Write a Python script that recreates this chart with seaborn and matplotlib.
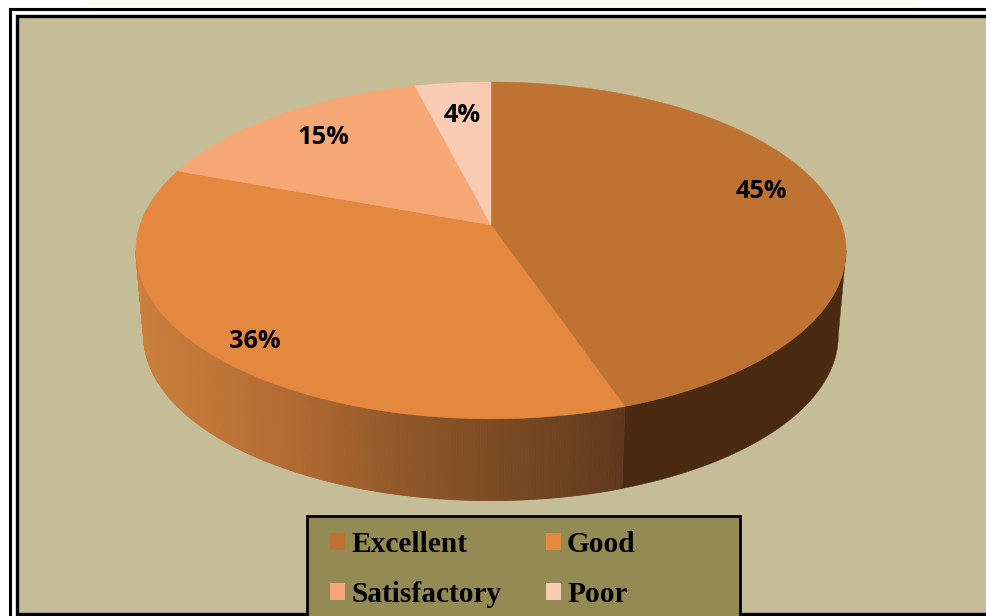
import numpy as np
import matplotlib
matplotlib.use("Agg")
import matplotlib.pyplot as plt
from matplotlib.patches import Rectangle, Patch
import seaborn as sns

categories = ["Excellent", "Good", "Satisfactory", "Poor"]
shares = [44.7, 35.9, 15.4, 4.0]
label_xy = [(761, 190), (255, 339), (323, 135), (462, 114)]
palette = sns.color_palette(["#BF7333", "#E5883F", "#F5A876", "#F9CBB3"])

sns.set_style("white")
W, H = 987, 616
fig = plt.figure(figsize=(W / 100, H / 100), dpi=100, facecolor="white")
ax = fig.add_axes([0, 0, 1, 1])
ax.set_xlim(0, W)
ax.set_ylim(H, 0)
ax.axis("off")

# projected disc geometry
CX, CY, RX, RY, K = 491, 225, 351, 164.6, 0.151
DROP, SHRINK = 86, 0.978
SILHOUETTE = np.pi / 2 + np.arcsin(K)


def project(theta, base=False):
    x, y = np.sin(theta), np.cos(theta)
    d = 1 + K * y
    px, py = RX * x / d, -RY * y / d
    if base:
        return CX + SHRINK * px, CY + DROP + SHRINK * py
    return CX + px, CY + py


# page background and frames
ax.add_patch(Rectangle((85, 0), 830, 7, fc="#FFFEF2", ec="none", zorder=0))
ax.add_patch(Rectangle((10, 9), 1000, 640, fc="white", ec="black", lw=2.2, zorder=1))
ax.add_patch(Rectangle((16.5, 15.5), 1000, 598, fc="#C4BD97", ec="black", lw=2.4, zorder=2))

edges = 2 * np.pi * np.concatenate([[0], np.cumsum(shares)]) / 100.0
lo, hi = edges[:-1], edges[1:]

side_stops = np.array([135, 280, 420, 560, 626])
side_r = np.array([0xCB, 0xB4, 0x8B, 0x6E, 0x5E]) / 255
side_g = np.array([0x80, 0x6C, 0x55, 0x43, 0x38]) / 255
side_b = np.array([0x3D, 0x33, 0x27, 0x20, 0x1C]) / 255

# side wall: Excellent front part, then the shaded Good part
th = np.linspace(SILHOUETTE, hi[0], 60)
tx, ty = project(th)
bx, by = project(th, True)
ax.fill(np.r_[tx, bx[::-1]], np.r_[ty, by[::-1]], fc="#4A2B12", ec="#4A2B12", lw=0.3, zorder=3)

th = np.linspace(hi[0], 2 * np.pi - SILHOUETTE, 240)
for a, b in zip(th[:-1], th[1:]):
    seg = np.array([a, b])
    tx, ty = project(seg)
    bx, by = project(seg, True)
    mid = tx.mean()
    col = (np.interp(mid, side_stops, side_r),
           np.interp(mid, side_stops, side_g),
           np.interp(mid, side_stops, side_b))
    ax.fill(np.r_[tx, bx[::-1]], np.r_[ty, by[::-1]], fc=col, ec=col, lw=0.6, zorder=3)

# top face wedges
for start, end, colour in zip(lo, hi, palette):
    th = np.linspace(start, end, 200)
    px, py = project(th)
    ax.fill(np.r_[CX, px], np.r_[CY, py], fc=colour, ec=colour, lw=0.3, zorder=4)

# percent labels
for share, (lx, ly) in zip(shares, label_xy):
    ax.text(lx, ly + 2, f"{round(share)}%", ha="center", va="center", zorder=5,
            family="Open Sans", fontweight="bold", fontsize=18.3, color="black")

# legend
ax.add_patch(Rectangle((306.5, 516), 433, 130, fc="#948A54", ec="black", lw=2.0, zorder=6))
handles = [Patch(fc=c, ec="none", label=n) for c, n in zip(palette, categories)]
order = [0, 2, 1, 3]
leg = ax.legend(
    [handles[i] for i in order], [categories[i] for i in order],
    ncols=2, loc="upper left", bbox_to_anchor=(315 / W, 1 - 516 / H),
    bbox_transform=ax.transAxes, borderaxespad=0, frameon=False,
    labelcolor="black",
    prop={"family": "Liberation Serif", "weight": "bold", "size": 21.2},
    handlelength=0.52, handleheight=0.52, handletextpad=0.21,
    labelspacing=0.8, columnspacing=1.5, borderpad=0.5,
)
leg.set_zorder(7)

fig.savefig("out.png", dpi=100)
